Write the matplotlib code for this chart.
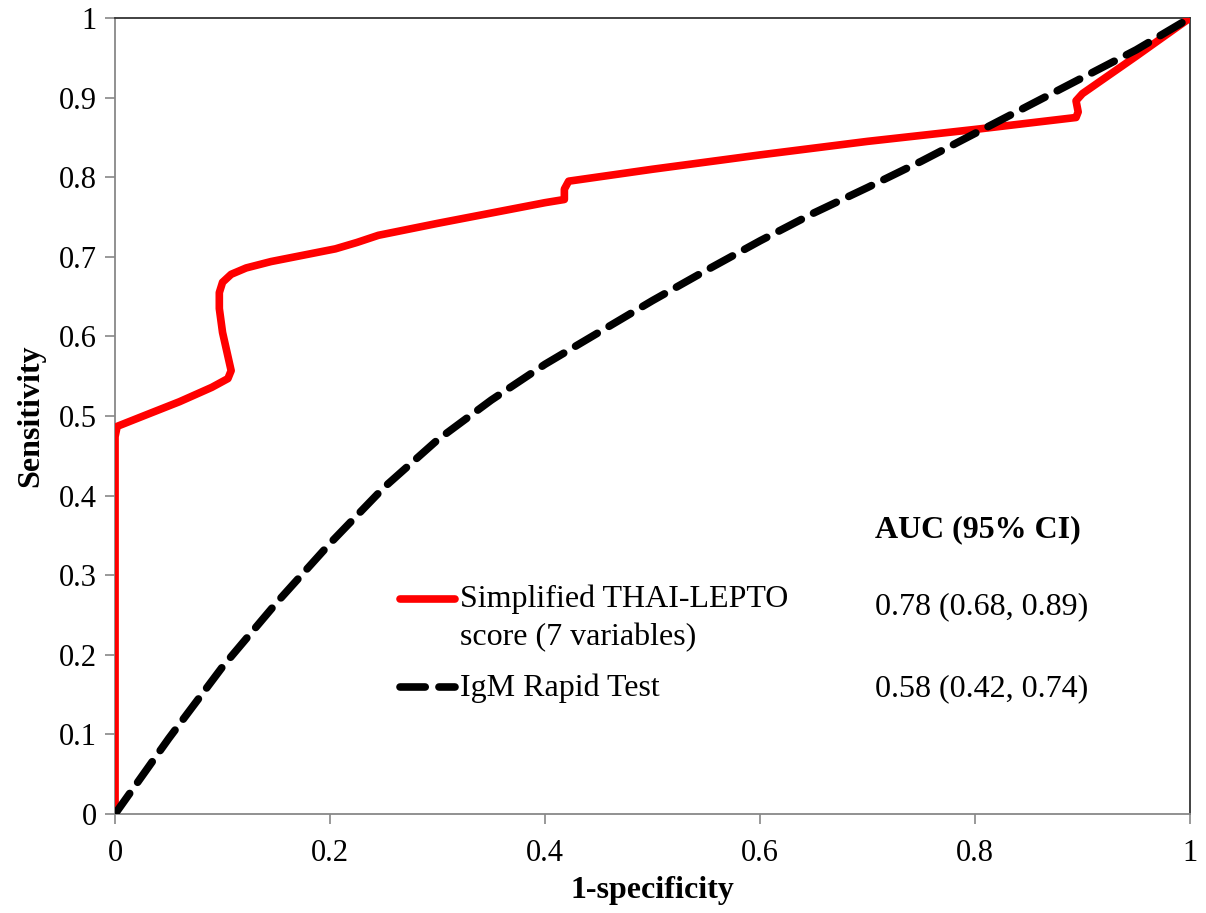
import matplotlib
matplotlib.use("Agg")
import matplotlib.pyplot as plt
import numpy as np

plt.rcParams['font.family'] = ['Liberation Serif', 'DejaVu Serif']

# Simplified THAI-LEPTO score ROC (1-specificity, sensitivity)
thai_x = [0.0, 0.0, 0.0, 0.002, 0.03, 0.06, 0.09, 0.105, 0.108, 0.105, 0.100, 0.097, 0.097, 0.100, 0.108, 0.122,
          0.145, 0.175, 0.205, 0.225, 0.245, 0.30, 0.35, 0.40, 0.418, 0.418, 0.422, 0.50, 0.60,
          0.70, 0.80, 0.894, 0.896, 0.894, 0.90, 0.95, 1.0]
thai_y = [0.0, 0.30, 0.474, 0.487, 0.502, 0.518, 0.536, 0.547, 0.557, 0.575, 0.605, 0.635, 0.655, 0.668, 0.678, 0.686,
          0.694, 0.702, 0.710, 0.718, 0.727, 0.742, 0.755, 0.768, 0.772, 0.785, 0.795, 0.81, 0.828,
          0.845, 0.86, 0.875, 0.882, 0.896, 0.905, 0.952, 1.0]

# IgM Rapid Test ROC
igm_x = [0.0, 0.05, 0.1, 0.15, 0.2, 0.25, 0.3, 0.35, 0.4, 0.45, 0.5, 0.55, 0.6, 0.65, 0.7, 0.75, 0.8, 0.85, 0.9, 0.95, 1.0]
igm_y = [0.0, 0.095, 0.185, 0.265, 0.34, 0.41, 0.47, 0.52, 0.565, 0.605, 0.645, 0.683, 0.72, 0.755, 0.787, 0.82, 0.855, 0.89, 0.925, 0.96, 1.0]

series_labels = ["Simplified THAI-LEPTO\nscore (7 variables)", "IgM Rapid Test"]
auc_title = "AUC (95% CI)"
auc_texts = ["0.78 (0.68, 0.89)", "0.58 (0.42, 0.74)"]
ticks = [0, 0.1, 0.2, 0.3, 0.4, 0.5, 0.6, 0.7, 0.8, 0.9, 1.0]
xticks = [0, 0.2, 0.4, 0.6, 0.8, 1.0]

fig = plt.figure(figsize=(12.06, 9.13), dpi=100)
ax = fig.add_axes([0.0954, 0.1084, 0.8913, 0.8719])

lw = 5.5
dash = (3.3, 1.8)
ax.plot(thai_x, thai_y, color='#ff0000', lw=lw, solid_capstyle='round', solid_joinstyle='round', zorder=3)
ax.plot(igm_x, igm_y, color='black', lw=lw, dashes=dash, dash_capstyle='round', zorder=4)

ax.set_xlim(0, 1)
ax.set_ylim(0, 1)
ax.set_xticks(xticks)
ax.set_yticks(ticks)
ax.set_xticklabels(['0', '0.2', '0.4', '0.6', '0.8', '1'])
ax.set_yticklabels(['0', '0.1', '0.2', '0.3', '0.4', '0.5', '0.6', '0.7', '0.8', '0.9', '1'])
ax.tick_params(direction='out', length=7, width=1.2, color='#888888', labelsize=22, pad=6)
ax.tick_params(axis='x', pad=11)
for s in ['left', 'bottom']:
    ax.spines[s].set_color('#888888')
    ax.spines[s].set_linewidth(1.3)
for s in ['top', 'right']:
    ax.spines[s].set_color('#333333')
    ax.spines[s].set_linewidth(1.3)

ax.set_xlabel('1-specificity', fontsize=23, fontweight='bold', labelpad=6)
ax.set_ylabel('Sensitivity', fontsize=23, fontweight='bold', labelpad=10)

# legend drawn manually
ax.plot([0.265, 0.316], [0.270, 0.270], transform=ax.transAxes, color='#ff0000', lw=lw,
        solid_capstyle='round', clip_on=False)
ax.plot([0.265, 0.316], [0.159, 0.159], transform=ax.transAxes, color='black', lw=lw,
        dashes=dash, dash_capstyle='round', clip_on=False)
ax.text(0.321, 0.288, series_labels[0], transform=ax.transAxes, fontsize=23, va='top', ha='left',
        linespacing=1.38)
ax.text(0.321, 0.158, series_labels[1], transform=ax.transAxes, fontsize=23, va='center', ha='left')

ax.text(0.707, 0.357, auc_title, transform=ax.transAxes, fontsize=23, fontweight='bold', va='center', ha='left')
ax.text(0.707, 0.261, auc_texts[0], transform=ax.transAxes, fontsize=23, va='center', ha='left')
ax.text(0.707, 0.158, auc_texts[1], transform=ax.transAxes, fontsize=23, va='center', ha='left')

fig.savefig('out.png', dpi=100)
